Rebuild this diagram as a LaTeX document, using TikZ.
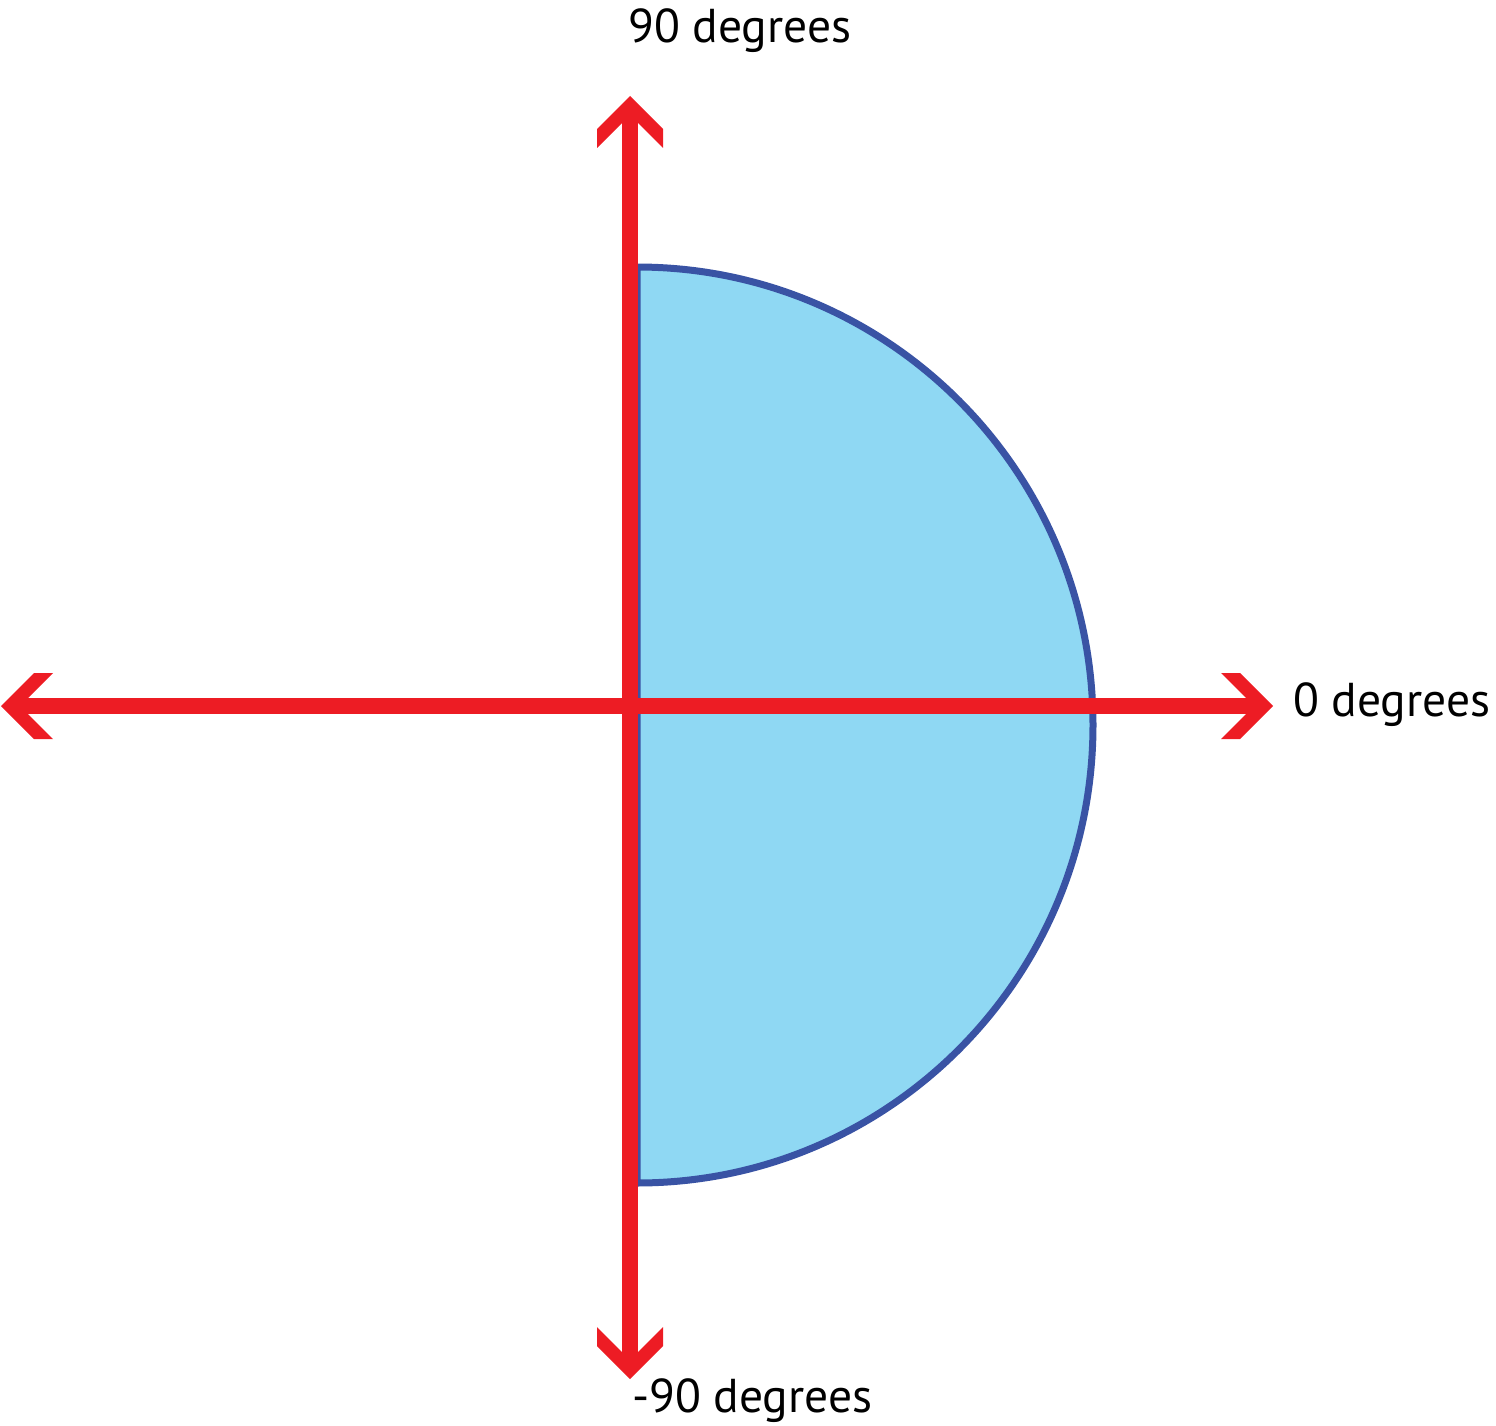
\documentclass[tikz,border=0pt]{standalone}
\usepackage{fontspec}
\setmainfont{PT Sans}
\definecolor{axisred}{HTML}{ED1C24}
\definecolor{lobefill}{HTML}{8FD8F3}
\definecolor{lobeline}{HTML}{3953A4}
\begin{document}
\begin{tikzpicture}[x=1pt,y=-1pt,
  axisline/.style={draw=axisred,line width=15.5pt,shorten <=10pt,shorten >=10pt},
  lobe/.style={draw=lobeline,fill=lobefill,line width=7pt},
  lbl/.style={anchor=base west,inner sep=0pt,font=\fontsize{47.5}{57}\selectfont},
  chev/.pic={\fill[axisred] (0,0) -- (-33,-33) -- (-52,-33) -- (-19,0) -- (-52,33) -- (-33,33) -- cycle;}
]
\useasboundingbox (0,0) rectangle (1496,1426);
\coordinate (top) at (630,96);
\coordinate (bot) at (630,1379);
\coordinate (lft) at (1,706);
\coordinate (rgt) at (1273,706);
% lobe
\draw[lobe] (637,267) arc[start angle=-90,end angle=90,x radius=456,y radius=458] -- cycle;
% axes
\draw[axisline] (lft) -- (rgt);
\draw[axisline] (bot) -- (top);
\pic[rotate=90] at (top) {chev};
\pic[rotate=-90] at (bot) {chev};
\pic at (rgt) {chev};
\pic[rotate=180] at (lft) {chev};
% labels
\node[lbl] (l90) at (628,43) {90 degrees};
\node[lbl] (l0) at (1293,716) {0 degrees};
\node[lbl] (lm90) at (632,1412) {-90 degrees};
\end{tikzpicture}
\end{document}
